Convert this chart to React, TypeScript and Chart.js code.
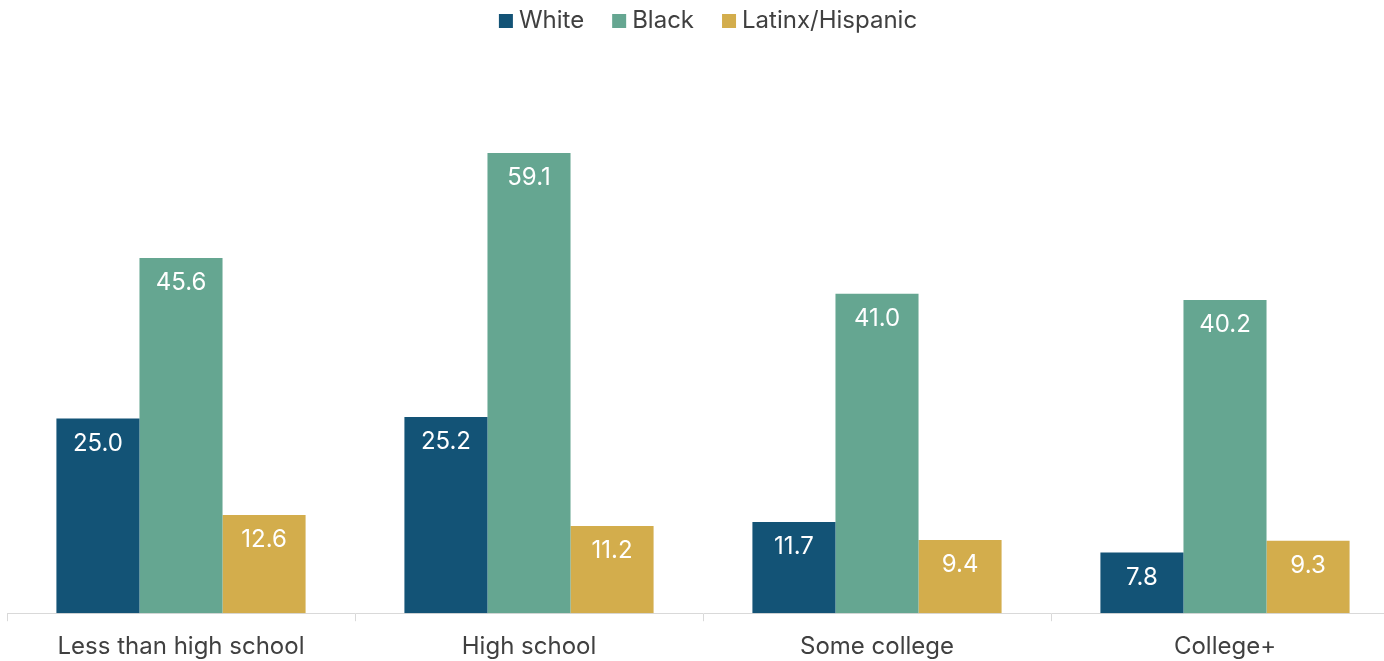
import React, { useEffect, useRef } from "react";
import { Chart, registerables } from "chart.js";

Chart.register(...registerables);

const categories = ["Less than high school", "High school", "Some college", "College+"];
const seriesNames = ["White", "Black", "Latinx/Hispanic"];
const whiteValues = [25.0, 25.2, 11.7, 7.8];
const blackValues = [45.6, 59.1, 41.0, 40.2];
const latinxValues = [12.6, 11.2, 9.4, 9.3];
const colors = ["#135376", "#65a691", "#d3ad4c"];

const FONT = "Inter, 'Liberation Sans', Arial, sans-serif";
const TEXT = "#404040";

const valueLabels = {
  id: "valueLabels",
  afterDatasetsDraw(chart: any) {
    const ctx = chart.ctx;
    ctx.save();
    ctx.fillStyle = "#ffffff";
    ctx.font = `24px ${FONT}`;
    ctx.textAlign = "center";
    ctx.textBaseline = "middle";
    chart.data.datasets.forEach((ds: any, i: number) => {
      const meta = chart.getDatasetMeta(i);
      meta.data.forEach((bar: any, j: number) => {
        ctx.fillText(Number(ds.data[j]).toFixed(1), bar.x, bar.y + 25);
      });
    });
    ctx.restore();
  },
};

const topLegend = {
  id: "topLegend",
  afterDraw(chart: any) {
    const ctx = chart.ctx;
    ctx.save();
    ctx.font = `24px ${FONT}`;
    ctx.textBaseline = "middle";
    ctx.textAlign = "left";
    const box = 14, gapText = 6, gapItem = 28;
    const items = chart.data.datasets.map((ds: any) => ({
      label: ds.label,
      color: ds.backgroundColor,
      w: ctx.measureText(ds.label).width,
    }));
    const total = items.reduce((s: number, it: any) => s + box + gapText + it.w, 0) + gapItem * (items.length - 1);
    let x = 708 - total / 2;
    const y = 21;
    items.forEach((it: any) => {
      ctx.fillStyle = it.color;
      ctx.fillRect(x, y - 7, box, box);
      x += box + gapText;
      ctx.fillStyle = TEXT;
      ctx.fillText(it.label, x, y);
      x += it.w + gapItem;
    });
    ctx.restore();
  },
};

export default function App() {
  const ref = useRef<HTMLCanvasElement | null>(null);
  useEffect(() => {
    if (!ref.current) return;
    const chart = new Chart(ref.current, {
      type: "bar",
      data: {
        labels: categories,
        datasets: [whiteValues, blackValues, latinxValues].map((d, i) => ({
          label: seriesNames[i],
          data: d,
          backgroundColor: colors[i],
          borderWidth: 0,
          categoryPercentage: 0.716,
          barPercentage: 1,
        })),
      },
      options: {
        responsive: false,
        maintainAspectRatio: false,
        animation: false,
        layout: { padding: { left: 7, right: 1, top: 68, bottom: 1 } },
        plugins: {
          tooltip: { enabled: false },
          legend: { display: false },
        },
        scales: {
          x: {
            offset: true,
            grid: {
              offset: true,
              drawOnChartArea: false,
              drawTicks: true,
              tickLength: 8,
              color: "#d9d9d9",
            },
            border: { color: "#d9d9d9", width: 1 },
            ticks: {
              color: TEXT,
              font: { size: 24, family: FONT },
              padding: 11,
            },
          },
          y: {
            display: false,
            min: 0,
            max: 70,
          },
        },
      },
      plugins: [valueLabels, topLegend],
    });
    return () => chart.destroy();
  }, []);
  return (
    <div style={{ position: "fixed", left: 0, top: 0, width: 1384, height: 661, overflow: "hidden" }}>
      <canvas ref={ref} width={1400} height={673} style={{ width: 1400, height: 673, display: "block" }} />
    </div>
  );
}
